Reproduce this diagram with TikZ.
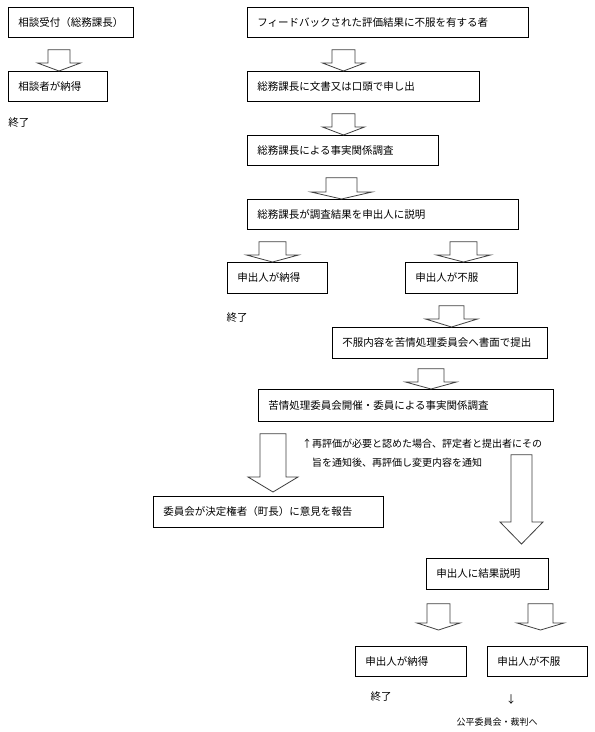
\documentclass[tikz,border=0pt]{standalone}
\usepackage{fontspec}
\setmainfont{Noto Sans CJK JP}

\tikzset{
  qbox/.style={draw,line width=0.7pt,anchor=north west,inner xsep=10pt,inner ysep=0pt,align=left,font=\fontsize{10.5}{12}\selectfont},
  blockarrow/.style={draw=black!75,line width=0.8pt,fill=white},
  endlabel/.style={inner sep=0pt,font=\fontsize{10.5}{12}\selectfont}
}

\begin{document}
\begin{tikzpicture}[x=1pt,y=-1pt]
 \path[fill=white,use as bounding box] (0,0) rectangle (595,732);

 \node[qbox,text width=105pt,minimum height=30pt,align=center] (q1) at (8,7) {相談受付（総務課長）};
 \node[qbox,text width=79pt,minimum height=30pt] (q2) at (8,71) {相談者が納得};
 \node[endlabel] (end1) at (19,123) {終了};

 \node[qbox,text width=261pt,minimum height=30pt] (r1) at (247,7) {フィードバックされた評価結果に不服を有する者};
 \node[qbox,text width=212pt,minimum height=30pt] (r2) at (247,71) {総務課長に文書又は口頭で申し出};
 \node[qbox,text width=171pt,minimum height=30pt] (r3) at (247,135) {総務課長による事実関係調査};
 \node[qbox,text width=251pt,minimum height=30pt] (r4) at (247,199) {総務課長が調査結果を申出人に説明};

 \node[qbox,text width=80pt,minimum height=31pt] (s1) at (227,262) {申出人が納得};
 \node[qbox,text width=92pt,minimum height=31pt] (s2) at (405,262) {申出人が不服};
 \node[endlabel] (end2) at (237,318) {終了};

 \node[qbox,text width=195pt,minimum height=31pt] (t1) at (332,327) {不服内容を苦情処理委員会へ書面で提出};
 \node[qbox,text width=275pt,minimum height=32pt] (t2) at (258,389) {苦情処理委員会開催・委員による事実関係調査};
 \node[anchor=west,align=left,inner sep=0pt,font=\fontsize{10}{19}\selectfont] (note) at (312,453.5)
   {\llap{↑}再評価が必要と認めた場合、評定者と提出者にその\\旨を通知後、再評価し変更内容を通知};
 \node[qbox,text width=210pt,minimum height=31pt] (u1) at (153,496) {委員会が決定権者（町長）に意見を報告};
 \coordinate (resEnd) at (521.5,544);

 \node[qbox,text width=102pt,minimum height=31pt] (v1) at (426,558) {申出人に結果説明};
 \node[qbox,text width=91pt,minimum height=30pt] (w1) at (355,646) {申出人が納得};
 \node[qbox,text width=80pt,minimum height=30pt] (w2) at (487,646) {申出人が不服};
 \node[endlabel] (end3) at (381,697) {終了};
 \node[endlabel] (down) at (511,700) {↓};
 \node[inner sep=0pt,font=\fontsize{9}{10}\selectfont] (fin) at (497,722) {公平委員会・裁判へ};

 \foreach \cx/\sw/\hw/\hl/\from/\tg/\to/\eg in {
   59/11/21.5/8/q1/12/q2.north/0,
   343.5/11.5/21/8/r1/12/r2.north/0,
   343.5/11.5/21/8/r2/12/r3.north/0,
   341.5/15.5/30.5/7/r3/12/r4.north/0,
   272.5/13.5/26/7/r4/12/s1.north/0,
   463.5/13.5/27/7/r4/12/s2.north/0,
   451.5/12.5/26/8/s2/12/t1.north/0,
   431/13/25.5/7/t1/10/t2.north/0,
   273/13/25/15/t2/12/u1.north/4,
   521.5/10.5/21.5/22/t2/33/resEnd/0,
   438.5/11.5/21.5/7/v1/14/w1.north/16,
   540.5/12.5/23.5/7/v1/14/w2.north/16}
 {
   \path (\cx,0 |- \from.south) ++(0,\tg) coordinate (T);
   \path (\cx,0 |- \to) ++(0,-\eg) coordinate (P);
   \path (P) ++(0,-\hl) coordinate (H);
   \draw[blockarrow] ([xshift=-\sw pt]T) -- ([xshift=-\sw pt]H) -- ([xshift=-\hw pt]H) -- (P)
     -- ([xshift=\hw pt]H) -- ([xshift=\sw pt]H) -- ([xshift=\sw pt]T) -- cycle;
 }
\end{tikzpicture}
\end{document}
